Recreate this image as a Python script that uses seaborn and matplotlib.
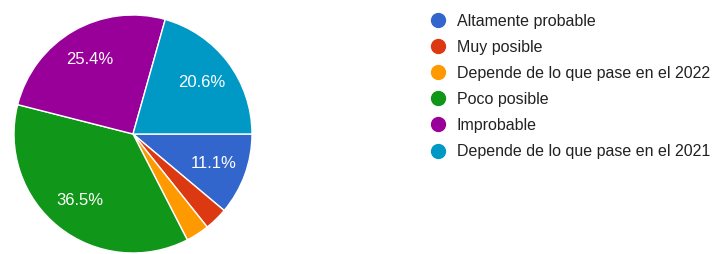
import matplotlib
matplotlib.use("Agg")
from matplotlib import pyplot as plt
from matplotlib.lines import Line2D
import seaborn as sns

categories = ["Altamente probable", "Muy posible", "Depende de lo que pase en el 2022",
              "Poco posible", "Improbable", "Depende de lo que pase en el 2021"]
responses = [7, 2, 2, 23, 16, 13]
colors = ["#3366cc", "#dc3912", "#ff9900", "#109618", "#990099", "#0099c6"]

sns.set_theme(style="white")
plt.rcParams["font.family"] = ["Liberation Sans", "DejaVu Sans"]

fig = plt.figure(figsize=(7.16, 2.54), dpi=100)
ax = fig.add_axes([14 / 716, 1 / 254, 238 / 716, 238 / 254])


def pct_label(p):
    # small slices get no label, like the original chart
    return f"{p:.1f}%" if p > 5 else ""


wedges, texts, autotexts = ax.pie(
    responses, colors=colors, startangle=0, counterclock=False,
    autopct=pct_label, pctdistance=0.72,
    wedgeprops={"edgecolor": "white", "linewidth": 1},
    textprops={"color": "white", "fontsize": 12},
)
ax.set_xlim(-1, 1)
ax.set_ylim(-1, 1)
ax.set_aspect("equal")

handles = [Line2D([0], [0], marker="o", linestyle="", markersize=10,
                  markerfacecolor=c, markeredgecolor=c) for c in colors]
fig.legend(handles, categories, loc="upper left", bbox_to_anchor=(428 / 716, 1 - 14 / 254),
           frameon=False, fontsize=11.5, labelcolor="#222222",
           handletextpad=0.6, labelspacing=0.69, borderaxespad=0, borderpad=0,
           handlelength=1.2)

fig.savefig("out.png", dpi=100)
